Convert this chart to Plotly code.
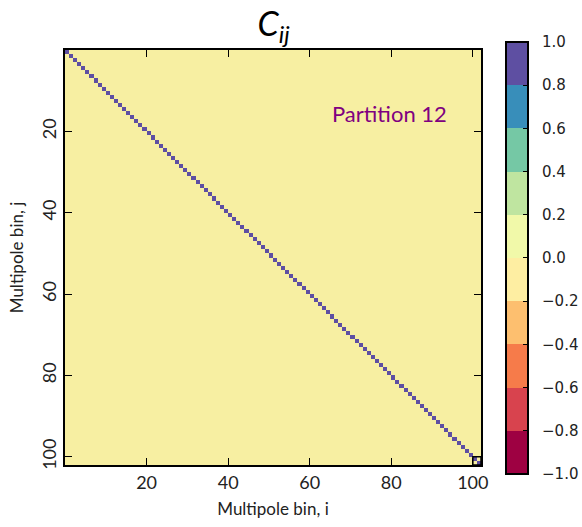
import numpy as np
import plotly.graph_objects as go

# ---- data ----
n_bins = 102
bin_centers = [i + 0.5 for i in range(n_bins)]
diagonal_value = 1.0          # self-correlation
off_diagonal_value = 0.0      # correlations between different bins (~0)
tick_values = [20, 40, 60, 80, 100]
cbar_ticks = [-1.0, -0.8, -0.6, -0.4, -0.2, 0.0, 0.2, 0.4, 0.6, 0.8, 1.0]
cbar_labels = ["\u22121.0", "\u22120.8", "\u22120.6", "\u22120.4", "\u22120.2",
               "0.0", "0.2", "0.4", "0.6", "0.8", "1.0"]
bin_colors = ["#9e0142", "#d8434e", "#f67b4a", "#fdbf6f", "#feeea2",
              "#f1f9a9", "#bfe5a0", "#75c8a5", "#388eba", "#5e4fa2"]
zero_color = "#f7efa2"
label_text = "Partition 12"

z = np.full((n_bins, n_bins), off_diagonal_value)
np.fill_diagonal(z, diagonal_value)

# discrete colorscale (10 levels between -1 and 1)
cs = []
nb = len(bin_colors)
for k, c in enumerate(bin_colors):
    lo, hi = k / nb, (k + 1) / nb
    if k == 4:
        cs += [[lo, c], [hi - 1e-4, c], [hi, zero_color]]
    elif k == 5:
        cs += [[lo + 1e-4, c], [hi, c]]
    else:
        cs += [[lo, c], [hi, c]]

pad = "\u00a0\u00a0"
W, H = 582, 527
fig = go.Figure()
fig.add_trace(go.Heatmap(
    x=bin_centers, y=bin_centers, z=z,
    zmin=-1, zmax=1, colorscale=cs, zsmooth=False,
    colorbar=dict(
        xref="container", x=506 / W, xanchor="left", xpad=0,
        yref="paper", y=0.4988, yanchor="middle", ypad=0,
        len=1.04, lenmode="fraction",
        thickness=22, thicknessmode="pixels",
        outlinecolor="black", outlinewidth=2,
        tickmode="array", tickvals=cbar_ticks,
        ticktext=[pad + t for t in cbar_labels],
        ticks="inside", ticklen=6, tickcolor="black",
        tickfont=dict(family="DejaVu Sans", size=15, color="#222"),
    ),
    hoverinfo="skip",
))

# outline of last bin
fig.add_shape(type="rect", x0=n_bins - 2, x1=n_bins, y0=n_bins - 2, y1=n_bins,
              line=dict(color="black", width=1.5), xref="x", yref="y")

fig.add_annotation(text=label_text, xref="paper", yref="paper",
                   x=0.924, y=0.848, xanchor="right", yanchor="middle",
                   showarrow=False,
                   font=dict(family="Lato", size=22, color="#800080"))

axis_common = dict(
    showline=True, linecolor="black", linewidth=2, mirror="ticks",
    ticks="inside", ticklen=7, tickwidth=1, tickcolor="black",
    tickmode="array", tickvals=tick_values,
    showgrid=False, zeroline=False,
    tickfont=dict(family="Lato", size=18, color="#222"),
)

fig.update_layout(
    width=W, height=H,
    margin=dict(l=65, r=101, t=50, b=62),
    paper_bgcolor="white", plot_bgcolor="white",
    title=dict(text="<i>C</i><sub><i>ij</i></sub>", x=0.47, xanchor="center",
               y=0.955, yanchor="middle",
               font=dict(family="Lato", size=34, color="black")),
    xaxis=dict(range=[0, n_bins],
               title=dict(text="Multipole bin, i", standoff=12,
                          font=dict(family="Lato", size=17, color="#222")),
               **axis_common),
    yaxis=dict(range=[n_bins, 0], tickangle=-90,
               title=dict(text="Multipole bin, j", standoff=10,
                          font=dict(family="Lato", size=17, color="#222")),
               **axis_common),
)

fig.write_html("out.html")
